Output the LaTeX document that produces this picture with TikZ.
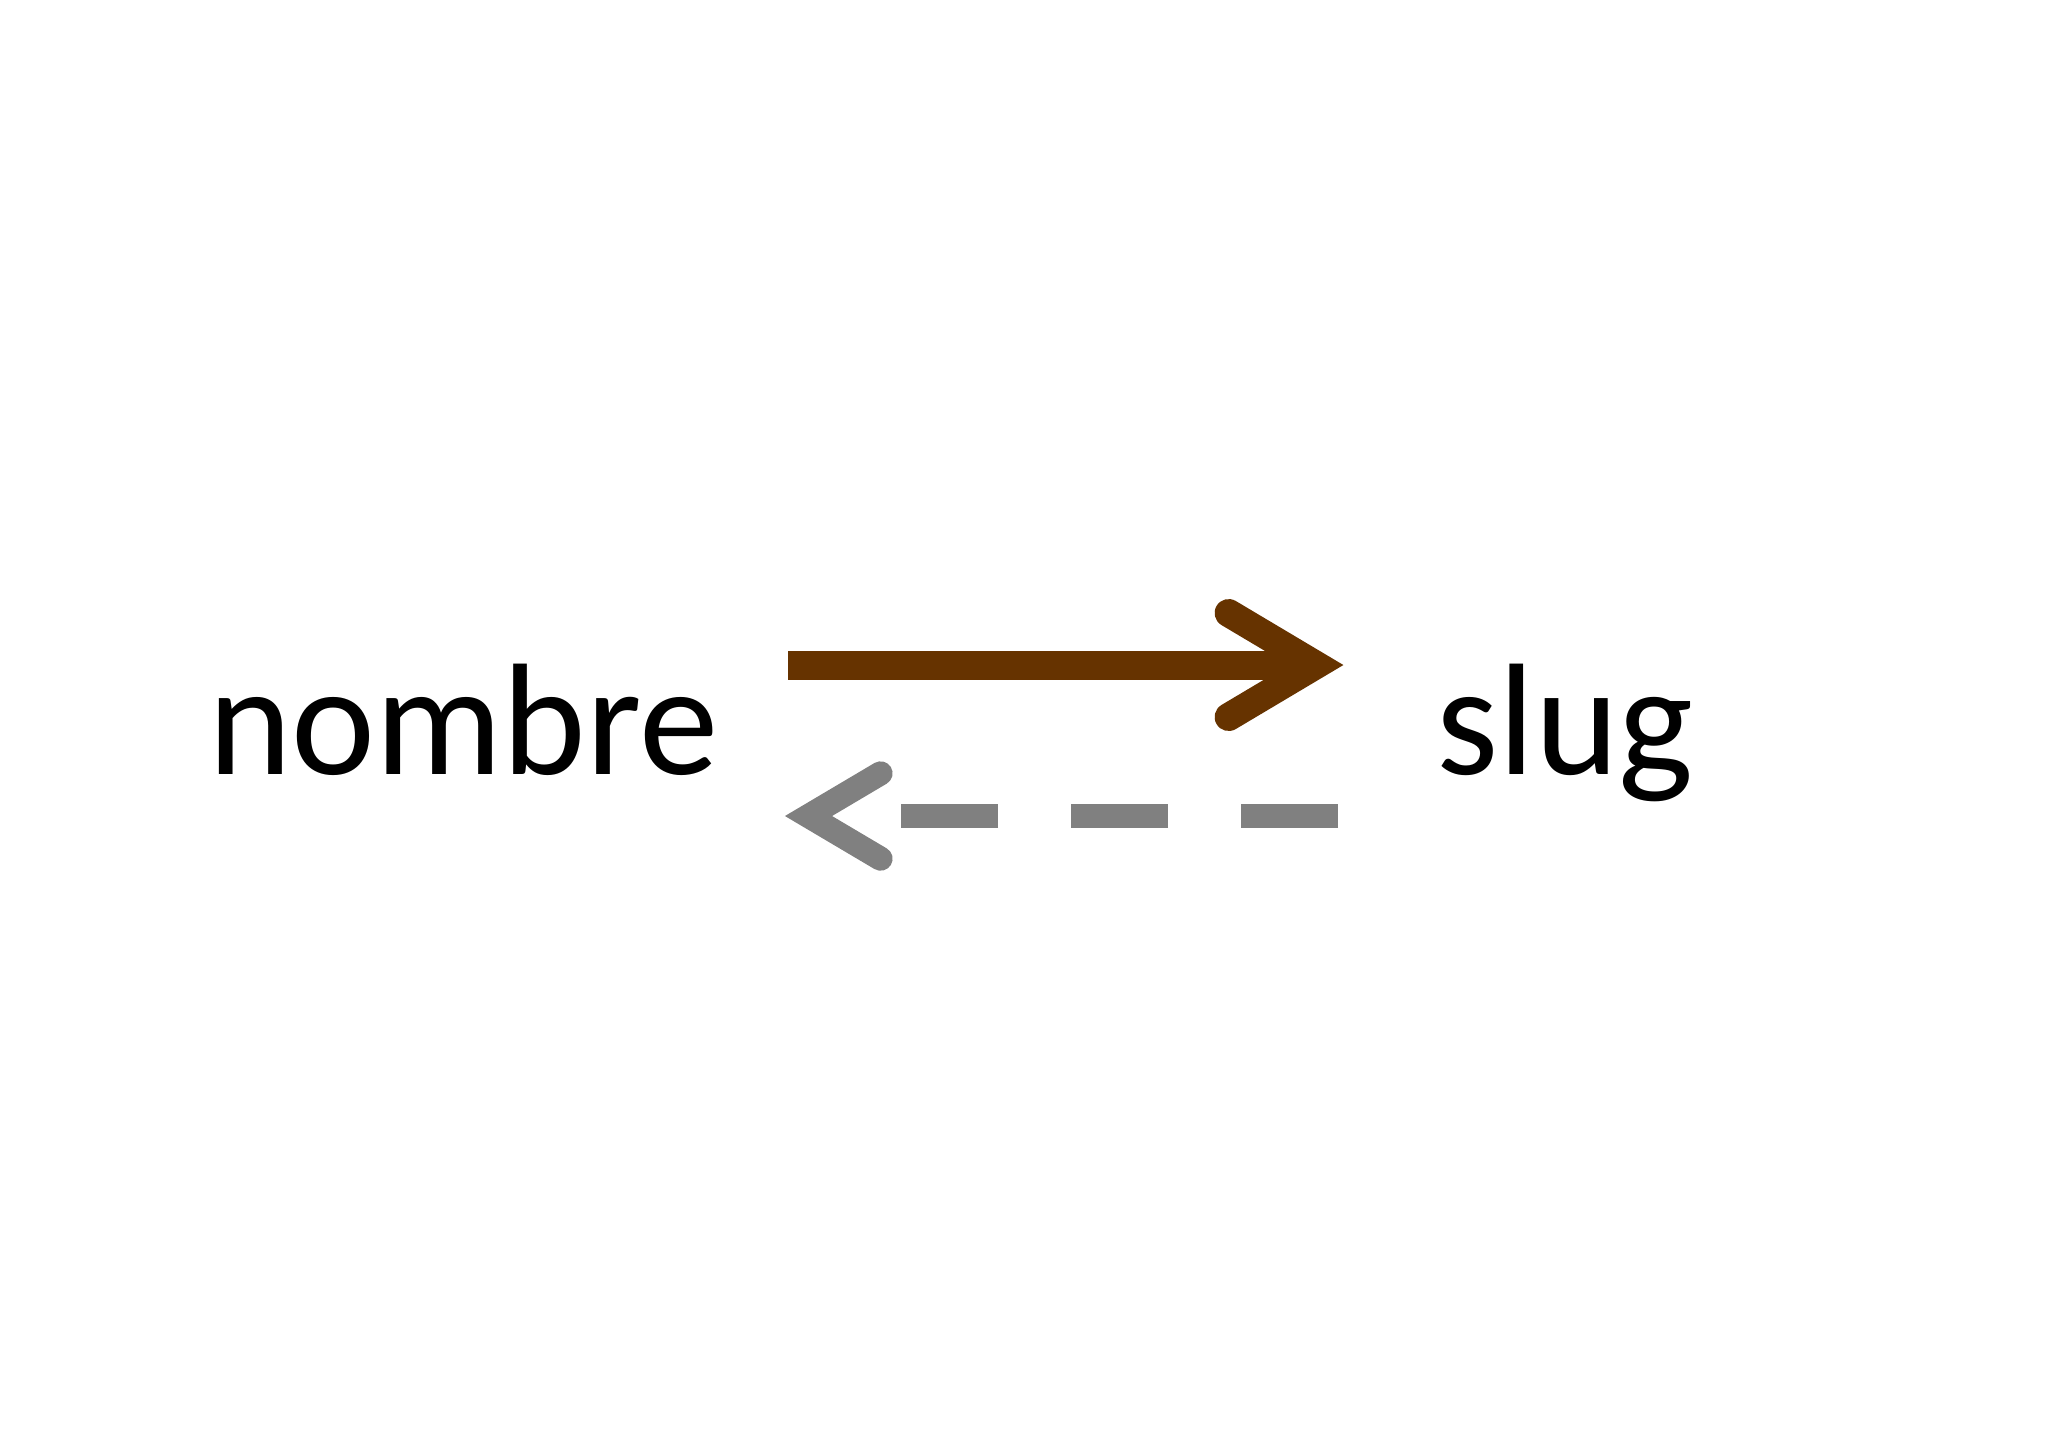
\documentclass[tikz,border=0pt]{standalone}
\usepackage{fontspec}
\setmainfont{Carlito}
\definecolor{shaftbrown}{HTML}{663300}
\definecolor{backgray}{HTML}{808080}
\begin{document}
\begin{tikzpicture}[x=0.5pt,y=-0.5pt,
  word/.style={inner sep=0pt,anchor=base west,font=\fontsize{79.5pt}{95pt}\selectfont},
  fwdline/.style={draw=shaftbrown,line width=14.5pt,line cap=butt},
  fwdhead/.style={draw=shaftbrown,line width=14pt,line cap=round,line join=miter},
  backline/.style={draw=backgray,line width=12pt,line cap=butt,dash pattern=on 48.5pt off 36.5pt},
  backhead/.style={draw=backgray,line width=12pt,line cap=round,line join=miter}]
\useasboundingbox[fill=white] (0,0) rectangle (2048,1448);
\node[word] (nombre) at (208,774) {nombre};
\node[word] (slug) at (1436,774) {slug};
% forward arrow
\coordinate (f0) at (788,665);
\coordinate (f1) at (1316,665);
\coordinate (fu) at (1228.6,613);
\coordinate (fl) at (1228.6,717);
\draw[fwdline] (f0) -- (f1);
\draw[fwdhead] (fu) -- (f1) -- (fl);
% backward arrow
\coordinate (b0) at (1338,816);
\coordinate (b1) at (901,816);
\coordinate (bt) at (808.5,816);
\coordinate (bu) at (880.6,773.3);
\coordinate (bl) at (880.6,858.7);
\draw[backline] (b0) -- (b1);
\draw[backhead] (bu) -- (bt) -- (bl);
\end{tikzpicture}
\end{document}
